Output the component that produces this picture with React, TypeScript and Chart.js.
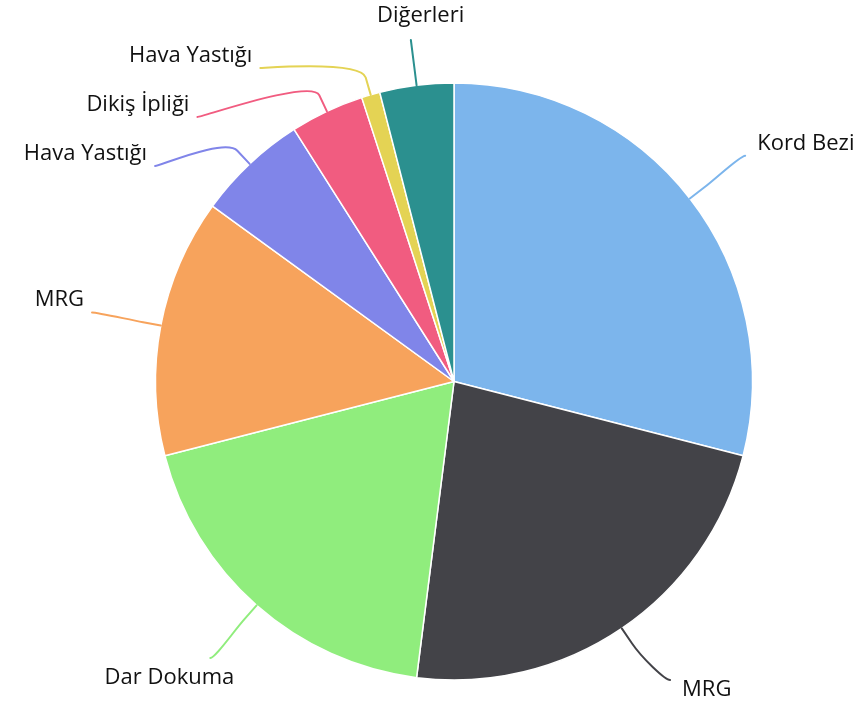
import React, { useEffect, useRef } from 'react';
import { Chart, registerables } from 'chart.js';

Chart.register(...registerables);

// ---- data ----
const categories = [
  'Kord Bezi',
  'MRG',
  'Dar Dokuma',
  'MRG',
  'Hava Yastığı',
  'Dikiş İpliği',
  'Hava Yastığı',
  'Diğerleri',
];
const shares = [29, 23, 19, 14, 6, 4, 1, 4];
const sliceColors = [
  '#7cb5ec',
  '#434348',
  '#90ed7d',
  '#f7a35c',
  '#8085e9',
  '#f15c80',
  '#e4d354',
  '#2b908f',
];

// ---- label layout settings ----
const LABEL_DISTANCE = 70;
const BREAK_DISTANCE = 18;
const LABEL_SPACING = 49;
const LABEL_MIN_Y = 68;
const LABEL_MAX_Y = 680;
const TOP_LABEL_END_Y = 40;
const LABEL_FONT = '22px "Open Sans", "DejaVu Sans", sans-serif';
const LABEL_COLOR = '#111111';

type Pt = { x: number; y: number };

const outsideLabels = {
  id: 'outsideLabels',
  afterDatasetsDraw(chart: any) {
    const meta = chart.getDatasetMeta(0);
    const texts: string[] = chart.data.labels;
    const colors: string[] = chart.data.datasets[0].backgroundColor;
    const ctx: CanvasRenderingContext2D = chart.ctx;

    const items = meta.data.map((arc: any, i: number) => {
      const p = arc.getProps(['x', 'y', 'startAngle', 'endAngle', 'outerRadius'], true);
      const mid = (p.startAngle + p.endAngle) / 2;
      const cos = Math.cos(mid);
      const sin = Math.sin(mid);
      const r = p.outerRadius;
      const R = r + LABEL_DISTANCE;
      const A: Pt = { x: p.x + cos * r, y: p.y + sin * r };
      const B: Pt = { x: p.x + cos * (r + BREAK_DISTANCE), y: p.y + sin * (r + BREAK_DISTANCE) };
      const side = Math.abs(cos) < 0.2 ? 'center' : cos < 0 ? 'left' : 'right';
      let E: Pt = { x: p.x + cos * R, y: p.y + sin * R };
      if (side === 'center' && sin < 0) {
        const rho = Math.min(R, (p.y - TOP_LABEL_END_Y) / -sin);
        E = { x: p.x + cos * rho, y: p.y + sin * rho };
      }
      return { i, cx: p.x, cy: p.y, R, A, B, E, side, text: texts[i], color: colors[i] };
    });

    // distribute labels on each side
    ['left', 'right'].forEach((s) => {
      const list = items.filter((it: any) => it.side === s).sort((a: any, b: any) => a.E.y - b.E.y);
      const ys = list.map((it: any) => it.E.y);
      for (let k = 0; k < ys.length; k++) {
        ys[k] = Math.max(ys[k], LABEL_MIN_Y, k > 0 ? ys[k - 1] + LABEL_SPACING : -Infinity);
      }
      for (let k = ys.length - 1; k >= 0; k--) {
        ys[k] = Math.min(ys[k], LABEL_MAX_Y, k < ys.length - 1 ? ys[k + 1] - LABEL_SPACING : Infinity);
      }
      list.forEach((it: any, k: number) => {
        const dy = ys[k] - it.cy;
        const dx = Math.sqrt(Math.max(it.R * it.R - dy * dy, 0));
        it.E = { x: it.cx + (s === 'left' ? -dx : dx), y: ys[k] };
      });
    });

    ctx.save();
    // connectors
    items.forEach((it: any) => {
      const c1x = it.E.x + (it.side === 'right' ? -5 : it.side === 'left' ? 5 : 0);
      ctx.beginPath();
      ctx.moveTo(it.E.x, it.E.y);
      ctx.bezierCurveTo(c1x, it.E.y, 2 * it.B.x - it.A.x, 2 * it.B.y - it.A.y, it.B.x, it.B.y);
      ctx.lineTo(it.A.x, it.A.y);
      ctx.strokeStyle = it.color;
      ctx.lineWidth = 2;
      ctx.lineCap = 'round';
      ctx.lineJoin = 'round';
      ctx.stroke();
    });
    // texts
    ctx.font = LABEL_FONT;
    ctx.fillStyle = LABEL_COLOR;
    ctx.textBaseline = 'alphabetic';
    items.forEach((it: any) => {
      const upper = it.E.y < it.cy;
      if (it.side === 'center') {
        ctx.textAlign = 'center';
        ctx.fillText(it.text, it.A.x + 4, upper ? it.E.y - 18.5 : it.E.y + 30);
      } else {
        ctx.textAlign = it.side === 'left' ? 'right' : 'left';
        let x = it.side === 'left' ? it.E.x - 8 : it.E.x + 12;
        if (!upper && it.side === 'left') x = it.E.x + 24;
        const y = upper ? it.E.y - 6 : it.E.y + (it.side === 'left' ? 26 : 16);
        ctx.fillText(it.text, x, y);
      }
    });
    ctx.restore();
  },
};

export default function App() {
  const canvasRef = useRef<HTMLCanvasElement | null>(null);

  useEffect(() => {
    if (!canvasRef.current) return;
    const chart = new Chart(canvasRef.current, {
      type: 'pie',
      data: {
        labels: categories,
        datasets: [
          {
            data: shares,
            backgroundColor: sliceColors,
            borderColor: '#ffffff',
            borderWidth: 1.5,
            hoverOffset: 0,
          },
        ],
      },
      options: {
        responsive: false,
        animation: false,
        radius: 298.5,
        layout: { padding: { left: 44, right: 0, top: 57, bottom: 0 } },
        plugins: {
          legend: { display: false },
          tooltip: { enabled: false },
        },
      } as any,
      plugins: [outsideLabels],
    });
    return () => chart.destroy();
  }, []);

  return (
    <div style={{ position: 'fixed', left: 0, top: 0, width: 864, height: 706, background: '#ffffff' }}>
      <canvas ref={canvasRef} width={864} height={706} style={{ display: 'block' }} />
    </div>
  );
}
